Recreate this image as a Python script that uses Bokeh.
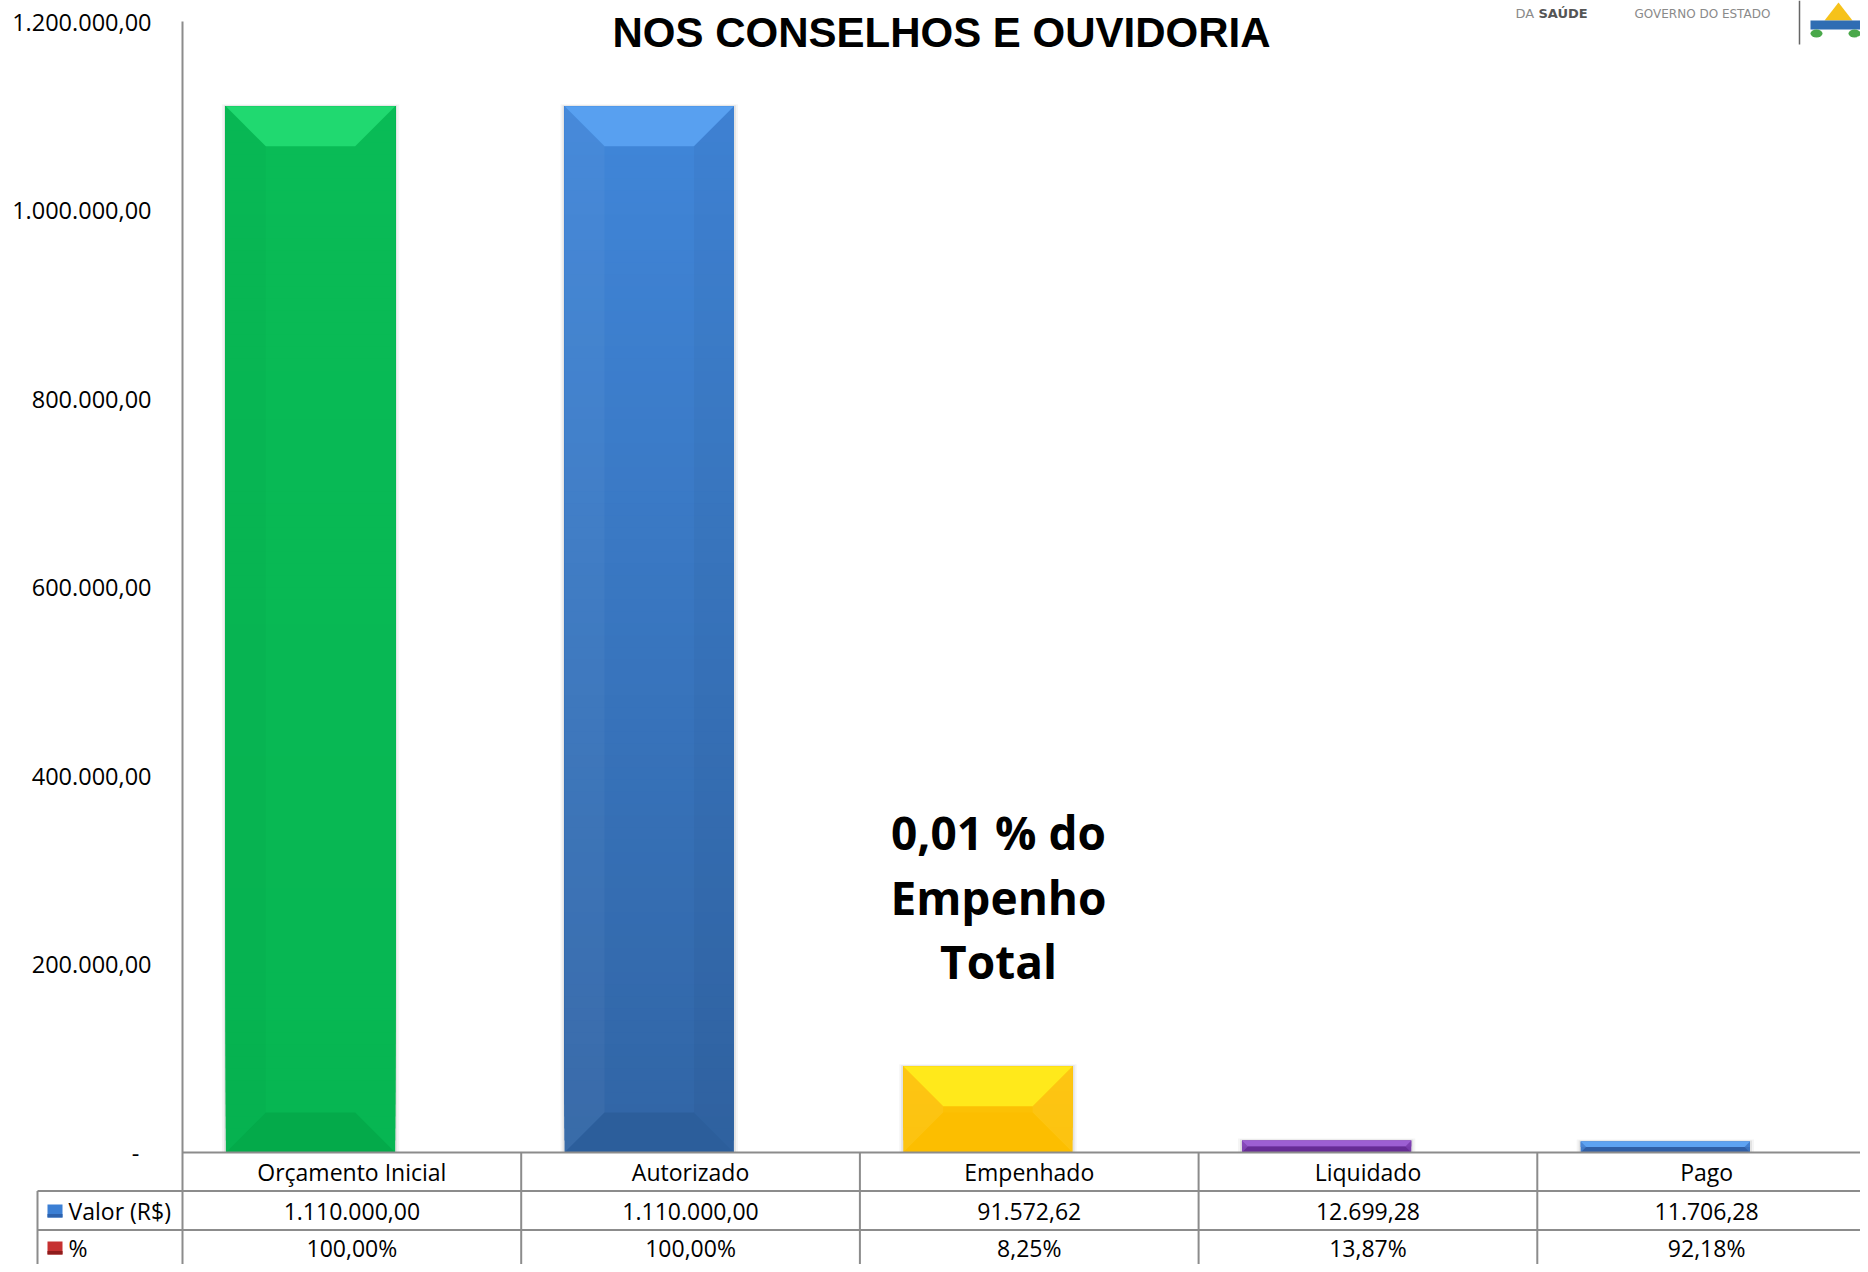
import numpy as np
from bokeh.plotting import figure
from bokeh.models import Range1d, LinearAxis, FixedTicker
from bokeh.core.properties import value
from bokeh.embed import file_html
from bokeh.resources import INLINE

# ---------------- data ----------------
CATEGORIES = ["Orçamento Inicial", "Autorizado", "Empenhado", "Liquidado", "Pago"]
VALORES = [1110000.00, 1110000.00, 91572.62, 12699.28, 11706.28]
PERCENTUAIS = [100.00, 100.00, 8.25, 13.87, 92.18]
Y_TICKS = [0, 200000, 400000, 600000, 800000, 1000000, 1200000]
Y_TICK_LABELS = ["-\u00a0\u00a0", "200.000,00", "400.000,00", "600.000,00",
                 "800.000,00", "1.000.000,00", "1.200.000,00"]
ROW_LABELS = ["Valor (R$)", "%"]
TITLE = "NOS CONSELHOS E OUVIDORIA"
NOTE = ["0,01 % do", "Empenho", "Total"]


def br(v, dec=2):
    s = f"{v:,.{dec}f}"
    return s.replace(",", "X").replace(".", ",").replace("X", ".")


VALOR_TXT = [br(v) for v in VALORES]
PCT_TXT = [br(v) + "%" for v in PERCENTUAIS]

# bar styling: top facet, base gradient (top colour, bottom colour), bottom facet
BAR_STYLE = [
    dict(top="#20d970", base=("#09bb56", "#07b652"), bottom="#04aa4a", side=("#000000", 0.02, "#ffffff", 0.0)),
    dict(top="#58a0f0", base=("#4086d9", "#3165a5"), bottom="#2c5e9b", side=("#ffffff", 0.04, "#000000", 0.03)),
    dict(top="#ffe91b", base=("#fdc205", "#fcc002"), bottom="#fcbe00", side=("#ffffff", 0.06, "#ffffff", 0.06)),
    dict(top="#9c5fd2", base=("#8444b8", "#7a3bae"), bottom="#662c95", side=("#ffffff", 0.03, "#000000", 0.03)),
    dict(top="#5ea3f2", base=("#4787d9", "#3a72c0"), bottom="#305fa6", side=("#ffffff", 0.03, "#000000", 0.03)),
]

# ---------------- layout ----------------
W, H = 1860, 1264
AXIS_X = 182.0          # pixel x of the value axis
CAT_W = 338.7           # pixel width of one category column
ZERO_Y = 1152.0         # pixel y of value 0
TOP_Y = 21.0            # pixel y of value 1.200.000
YMAX = 1200000.0
PPU = (ZERO_Y - TOP_Y) / YMAX
BAR_OFF = 0.378
BAR_W = 0.5
BEVEL = 40.0

HDR_Y, ROW1_Y, ROW2_Y = 1171.0, 1210.5, 1247.5
LINE1_Y, LINE2_Y = 1190.5, 1229.5
TABLE_LEFT = 37.0
GRID_COL = "#8c8c8c"
FONT = "Open Sans"
FS = "23px"

x_range = Range1d(-AXIS_X / CAT_W, (W - AXIS_X) / CAT_W)
y_range = Range1d(-(H - ZERO_Y) / PPU, YMAX + TOP_Y / PPU)

p = figure(width=W, height=H, x_range=x_range, y_range=y_range,
           output_backend="svg", toolbar_location=None,
           x_axis_location=None, y_axis_location=None, min_border=0)
p.outline_line_color = None
p.background_fill_color = "white"
p.border_fill_color = "white"
p.grid.visible = False
p.xgrid.visible = False
p.ygrid.visible = False
p.extra_x_ranges = {"px": Range1d(0, W)}
p.extra_y_ranges = {"px": Range1d(H, 0)}


def hex2rgb(h):
    h = h.lstrip("#")
    return tuple(int(h[i:i + 2], 16) for i in (0, 2, 4))


def mix(c1, c2, t):
    a, b = hex2rgb(c1), hex2rgb(c2)
    return "#%02x%02x%02x" % tuple(int(round(a[i] + (b[i] - a[i]) * t)) for i in range(3))


# ---------------- bars ----------------
sh_l, sh_r, sh_t, sh_b, sh_a = [], [], [], [], []
sl_l, sl_r, sl_t, sl_b, sl_c = [], [], [], [], []
f_xs, f_ys, f_c, f_a = [], [], [], []
for i, (v, st) in enumerate(zip(VALORES, BAR_STYLE)):
    L = i + BAR_OFF - BAR_W / 2
    R = i + BAR_OFF + BAR_W / 2
    for k, a in ((2, 0.07), (4, 0.04)):
        sh_l.append(L - k / CAT_W); sh_r.append(R + k / CAT_W)
        sh_t.append(v + k / PPU * 0.5); sh_b.append(0); sh_a.append(a)
    n_sl = max(2, int(v * PPU / 12))
    edges = np.linspace(0, v, n_sl + 1)
    for j in range(n_sl):
        t = (j + 0.5) / n_sl
        sl_l.append(L); sl_r.append(R)
        sl_b.append(edges[j]); sl_t.append(v)
        sl_c.append(mix(st["base"][1], st["base"][0], t))
    b_px = min(BEVEL, v * PPU / 2)
    bx, by = b_px / CAT_W, b_px / PPU
    lc, la, rc, ra = st["side"]
    f_xs.append([L, L + bx, L + bx, L]); f_ys.append([v, v - by, by, 0]); f_c.append(lc); f_a.append(la)
    f_xs.append([R, R, R - bx, R - bx]); f_ys.append([v, 0, by, v - by]); f_c.append(rc); f_a.append(ra)
    f_xs.append([L, R, R - bx, L + bx]); f_ys.append([v, v, v - by, v - by]); f_c.append(st["top"]); f_a.append(1.0)
    f_xs.append([L, R, R - bx, L + bx]); f_ys.append([0, 0, by, by]); f_c.append(st["bottom"]); f_a.append(1.0)

p.quad(left=sh_l, right=sh_r, top=sh_t, bottom=sh_b, fill_color="black",
       fill_alpha=sh_a, line_color=None)
p.quad(left=sl_l, right=sl_r, top=sl_t, bottom=sl_b, fill_color=sl_c, line_color=None)
p.patches(xs=f_xs, ys=f_ys, fill_color=f_c, fill_alpha=f_a, line_color=None)

# ---------------- value axis ----------------
yaxis = LinearAxis(fixed_location=0, ticker=FixedTicker(ticks=Y_TICKS),
                   major_label_overrides={t: l for t, l in zip(Y_TICKS, Y_TICK_LABELS)},
                   bounds=(y_range.start, YMAX))
yaxis.axis_line_color = GRID_COL
yaxis.axis_line_width = 2
yaxis.major_tick_in = 0
yaxis.major_tick_out = 0
yaxis.minor_tick_in = 0
yaxis.minor_tick_out = 0
yaxis.major_label_standoff = 31
yaxis.major_label_text_font = FONT
yaxis.major_label_text_font_size = "23.5px"
yaxis.major_label_text_color = "#000000"
p.add_layout(yaxis, "left")

# ---------------- data table ----------------
n = len(CATEGORIES)
p.segment(x0=[AXIS_X, TABLE_LEFT, TABLE_LEFT], y0=[ZERO_Y, LINE1_Y, LINE2_Y],
          x1=[W, W, W], y1=[ZERO_Y, LINE1_Y, LINE2_Y],
          x_range_name="px", y_range_name="px", line_color=GRID_COL, line_width=2)
p.segment(x0=[TABLE_LEFT], y0=[LINE1_Y], x1=[TABLE_LEFT], y1=[H],
          x_range_name="px", y_range_name="px", line_color=GRID_COL, line_width=2)
cols = list(range(1, n))
p.segment(x0=cols, y0=[ZERO_Y] * len(cols), x1=cols, y1=[H] * len(cols),
          y_range_name="px", line_color=GRID_COL, line_width=2)

centers = [i + 0.5 for i in range(n)]
tkw = dict(text_font=value(FONT), text_font_size=FS, text_color="#000000",
           text_align="center", text_baseline="middle", y_range_name="px")
p.text(x=centers, y=[HDR_Y] * n, text=CATEGORIES, **tkw)
p.text(x=centers, y=[ROW1_Y] * n, text=VALOR_TXT, **tkw)
p.text(x=centers, y=[ROW2_Y] * n, text=PCT_TXT, **tkw)

# row labels with legend keys
p.quad(left=[47, 47], right=[62, 62], top=[ROW1_Y - 6.5, ROW2_Y - 6.5],
       bottom=[ROW1_Y + 6.5, ROW2_Y + 6.5],
       fill_color=["#3b7fd4", "#c63131"], line_color=None,
       x_range_name="px", y_range_name="px")
p.quad(left=[47, 47], right=[62, 62], top=[ROW1_Y + 3, ROW2_Y + 3],
       bottom=[ROW1_Y + 6.5, ROW2_Y + 6.5],
       fill_color=["#2d62ad", "#8e1c1c"], line_color=None,
       x_range_name="px", y_range_name="px")
p.text(x=[68, 68], y=[ROW1_Y, ROW2_Y], text=ROW_LABELS, text_font=value(FONT),
       text_font_size=FS, text_color="#000000", text_align="left",
       text_baseline="middle", x_range_name="px", y_range_name="px")

# ---------------- annotations ----------------
p.text(x=[998] * 3, y=[831.5, 896, 960], text=NOTE, text_font=value(FONT),
       text_font_size="46px", text_font_style="bold", text_color="#000000",
       text_align="center", text_baseline="middle",
       x_range_name="px", y_range_name="px")

p.text(x=[941], y=[32], text=[TITLE], text_font=value("Liberation Sans"),
       text_font_size="42px", text_font_style="bold", text_color="#000000",
       text_align="center", text_baseline="alphabetic",
       x_range_name="px", y_range_name="px")

# header logos
p.text(x=[1515], y=[13], text=["DA"], text_font=value("DejaVu Sans"),
       text_font_size="13px", text_color="#8a8a8a", text_align="left",
       text_baseline="alphabetic", x_range_name="px", y_range_name="px")
p.text(x=[1538], y=[13], text=["SAÚDE"], text_font=value("DejaVu Sans"),
       text_font_size="13px", text_font_style="bold", text_color="#555555",
       text_align="left", text_baseline="alphabetic",
       x_range_name="px", y_range_name="px")
p.text(x=[1634], y=[13], text=["GOVERNO DO ESTADO"], text_font=value("DejaVu Sans"),
       text_font_size="12px", text_color="#8a8a8a", text_align="left",
       text_baseline="alphabetic", x_range_name="px", y_range_name="px")
p.segment(x0=[1799], y0=[0], x1=[1799], y1=[44], x_range_name="px",
          y_range_name="px", line_color="#666666", line_width=1.5)
p.patches(xs=[[1824, 1852, 1838], [1810, 1860, 1860, 1810]],
          ys=[[20, 20, 2], [20, 20, 29, 29]],
          fill_color=["#f6c21a", "#2f6db3"], line_color=None,
          x_range_name="px", y_range_name="px")
p.ellipse(x=[1816, 1854], y=[33, 33], width=[12, 12], height=[8, 8],
          fill_color="#4aa84a", line_color=None, x_range_name="px", y_range_name="px")

open("out.html", "w").write(file_html(p, INLINE))
